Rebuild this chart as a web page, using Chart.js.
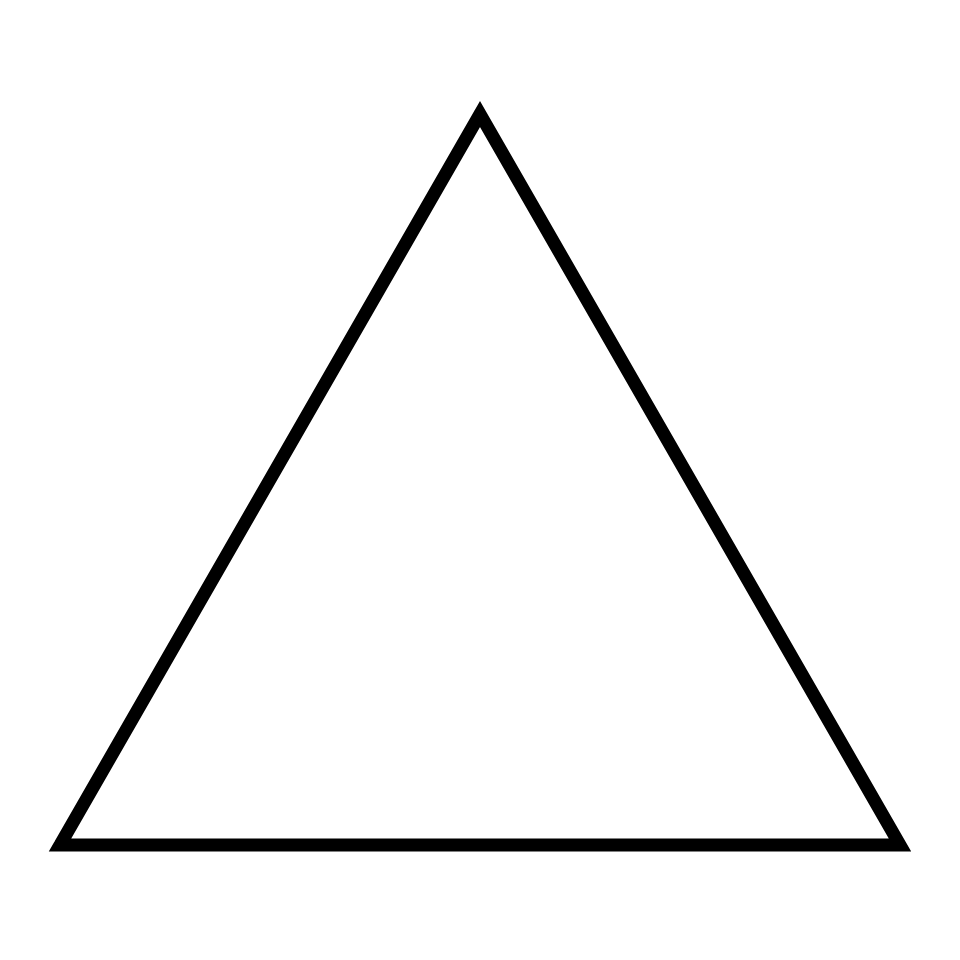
<!DOCTYPE html>
<html>
<head>
<meta charset="utf-8">
<script src="https://cdn.jsdelivr.net/npm/chart.js@4"></script>
<style>
  html, body { margin: 0; padding: 0; background: #fff; }
  #wrap { width: 960px; height: 960px; }
</style>
</head>
<body>
<div id="wrap"><canvas id="c"></canvas></div>
<script>
// triangle vertices in page units (0..960), last ones repeat to close with a mitred corner
const xs = [60, 480, 900, 60, 480];
const ys = [845, 114, 845, 845, 114];

const points = xs.map((x, i) => ({ x: x, y: ys[i] }));

new Chart(document.getElementById('c'), {
    type: 'scatter',
    data: {
        datasets: [{
            data: points,
            showLine: true,
            borderColor: '#000',
            borderWidth: 13,
            borderJoinStyle: 'miter',
            borderCapStyle: 'butt',
            pointRadius: 0,
            fill: false,
            tension: 0
        }]
    },
    options: {
        responsive: true,
        maintainAspectRatio: false,
        animation: false,
        layout: { padding: 0 },
        scales: {
            x: { type: 'linear', min: 0, max: 960, display: false },
            y: { type: 'linear', min: 0, max: 960, reverse: true, display: false }
        },
        plugins: { legend: { display: false }, tooltip: { enabled: false } }
    }
});
</script>
</body>
</html>
